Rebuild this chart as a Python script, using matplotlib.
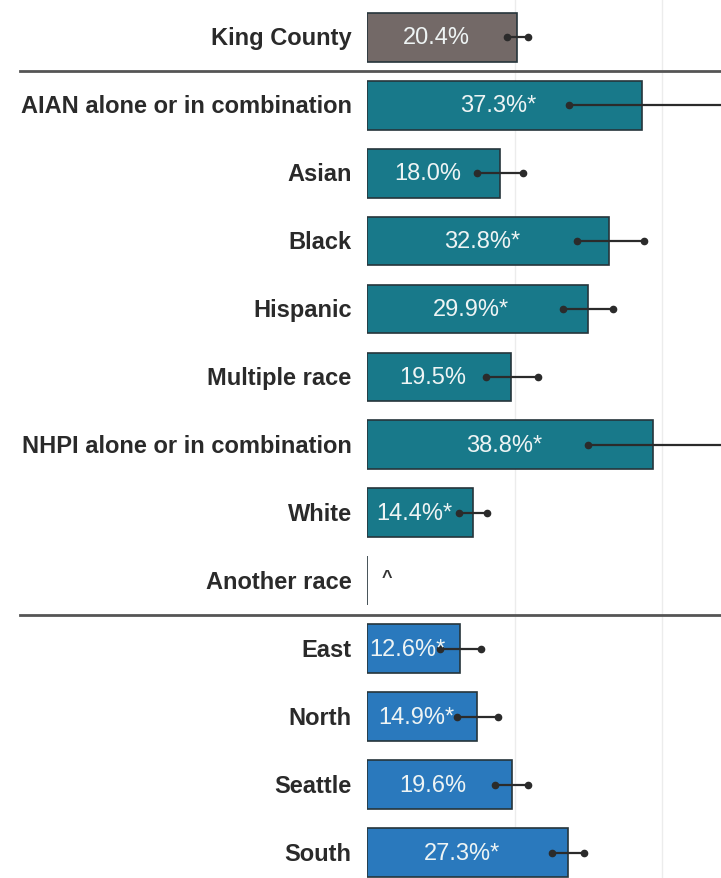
import matplotlib
matplotlib.use("Agg")
import matplotlib.pyplot as plt
import matplotlib.transforms as mtransforms
from matplotlib.lines import Line2D
import numpy as np

plt.rcParams['font.family'] = ['Liberation Sans', 'DejaVu Sans']

categories = ["King County", "AIAN alone or in combination", "Asian", "Black", "Hispanic",
              "Multiple race", "NHPI alone or in combination", "White", "Another race",
              "East", "North", "Seattle", "South"]
values = [20.4, 37.3, 18.0, 32.8, 29.9, 19.5, 38.8, 14.4, 0.0, 12.6, 14.9, 19.6, 27.3]
ci_low = [19.0, 27.4, 14.9, 28.5, 26.6, 16.1, 29.9, 12.5, np.nan, 9.9, 12.2, 17.3, 25.1]
ci_high = [21.8, 48.6, 21.1, 37.5, 33.3, 23.2, 49.0, 16.3, np.nan, 15.4, 17.8, 21.8, 29.4]
value_labels = ["20.4%", "37.3%*", "18.0%", "32.8%*", "29.9%*", "19.5%", "38.8%*", "14.4%*",
                "^", "12.6%*", "14.9%*", "19.6%", "27.3%*"]
groups = ["all", "race", "race", "race", "race", "race", "race", "race", "race",
          "region", "region", "region", "region"]
group_colors = {"all": "#736967", "race": "#18798a", "region": "#2a79bd"}

fig = plt.figure(figsize=(7.21, 8.79), dpi=100)
ax = fig.add_axes([367 / 721, 0.0, 1 - 367 / 721, 1.0])

y = np.arange(len(categories))
colors = [group_colors[g] for g in groups]
ax.barh(y, values, height=0.72, color=colors, edgecolor="#26353b", linewidth=1.2, zorder=2)

# error bars
lo = np.array(ci_low)
hi = np.array(ci_high)
ok = ~np.isnan(lo)
ax.hlines(y[ok], lo[ok], hi[ok], color="#2b2b2b", linewidth=1.6, zorder=3)
ax.plot(lo[ok], y[ok], "o", color="#2b2b2b", markersize=4.5, zorder=4, clip_on=True)
ax.plot(hi[ok], y[ok], "o", color="#2b2b2b", markersize=4.5, zorder=4, clip_on=True)

# value labels
off = mtransforms.offset_copy(ax.transData, fig=fig, x=-6, y=0, units="dots")
for yi, v, lab in zip(y, values, value_labels):
    if lab == "^":
        ax.text(2.7, yi - 0.05, lab, ha="center", va="center", fontsize=13, fontweight="bold",
                color="#333333", zorder=5)
    else:
        ax.text(v / 2, yi, lab, ha="center", va="center", fontsize=17, color="#eef4f4",
                transform=off, zorder=5)

ax.set_xlim(0, 48)
ax.set_ylim(12.37, -0.56)
ax.set_yticks(y)
ax.set_yticklabels(categories, fontsize=17, fontweight="bold", color="#2a2a2a")
ax.tick_params(axis="y", length=0, pad=11)
shift = mtransforms.ScaledTranslation(0, 2 / 100, fig.dpi_scale_trans)
for t in ax.get_yticklabels():
    t.set_transform(t.get_transform() + shift)
ax.set_xticks([20, 40])
ax.tick_params(axis="x", length=0, labelbottom=False)
ax.grid(axis="x", color="#ececec", linewidth=1, zorder=0)
ax.set_axisbelow(True)
for s in ax.spines.values():
    s.set_visible(False)

# group separators spanning the label area too
trans = mtransforms.blended_transform_factory(fig.transFigure, ax.transData)
for sep in [0.5, 8.5]:
    fig.add_artist(Line2D([20 / 721, 1.0], [sep, sep], transform=trans,
                          color="#555555", linewidth=2.0))

fig.savefig("out.png", dpi=100)
